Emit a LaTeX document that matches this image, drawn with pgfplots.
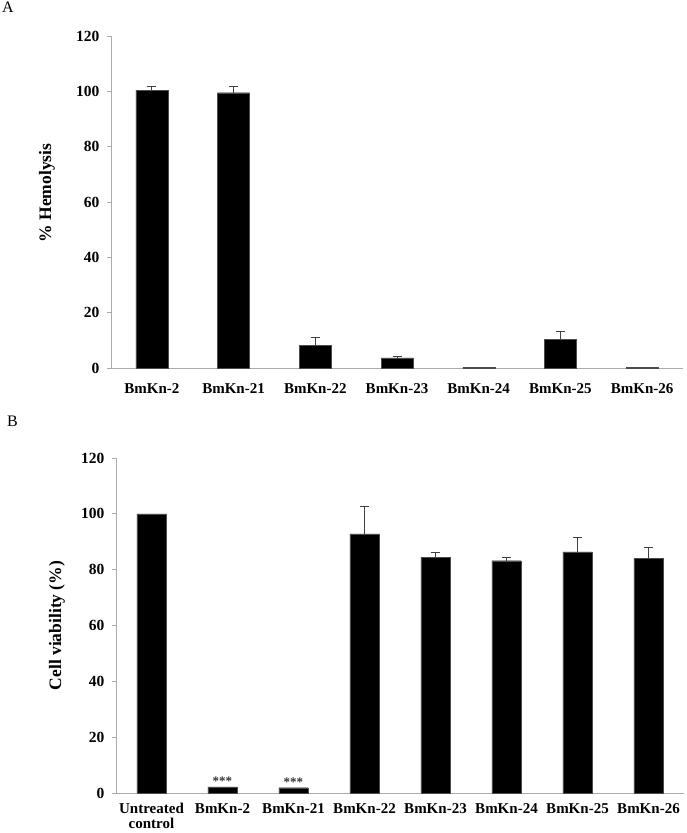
\documentclass[border=0pt]{standalone}
\usepackage{pgfplots}
\pgfplotsset{compat=1.18}
\usepackage{fontspec}
\setmainfont{Liberation Serif}

\pgfplotstableread{
x y
0 100.4
1 99.5
2 8.1
3 3.7
4 0.15
5 10.4
6 0.15
}\hemobars
\pgfplotstableread{
x y e
0 100.4 1.5
1 99.5 2.4
2 8.1 2.8
3 3.7 0.5
5 10.4 2.8
}\hemoerr
\pgfplotstableread{
x y
0 100
1 2.2
2 1.9
3 92.8
4 84.4
5 83.2
6 86.4
7 84.0
}\viabars
\pgfplotstableread{
x y e
3 92.8 9.8
4 84.4 1.8
5 83.2 1.1
6 86.4 5.1
7 84.0 3.8
}\viaerr

\pgfplotsset{
  panel/.style={
    scale only axis,
    axis lines*=left,
    axis line style={gray!65, line width=0.9pt},
    ymin=0, ymax=120,
    ytick={0,20,...,120},
    tick align=outside,
    major tick length=4pt,
    minor tick length=5pt,
    ytick style={gray!65, line width=0.9pt},
    xtick style={draw=none},
    minor x tick style={gray!65, line width=0.9pt},
    /pgf/number format/assume math mode=true,
    yticklabel style={font=\fontsize{15.5}{15.5}\selectfont\bfseries, anchor=east, xshift=-4pt},
    xticklabel style={font=\fontsize{15}{14.5}\selectfont\bfseries, anchor=north, align=center, yshift=-8pt},
    ylabel style={font=\fontsize{17.5}{17.5}\selectfont\bfseries, anchor=center},
    clip=false,
  },
  barstyle/.style={ybar, fill=black, draw=black!70, line width=0.4pt},
  errstyle/.style={draw=none, no markers, forget plot,
    error bars/.cd, y dir=plus, y explicit,
    error bar style={draw=black!75, line width=0.9pt},
    error mark options={draw=black!75, line width=0.9pt, rotate=90, mark size=4.5pt}},
}

\begin{document}
\begin{tikzpicture}[x=1pt,y=1pt]
\useasboundingbox (0,0) rectangle (687,-833);
\node[anchor=north west, inner sep=0pt, font=\fontsize{16}{16}\selectfont] at (2,-2) {A};
\node[anchor=north west, inner sep=0pt, font=\fontsize{16}{16}\selectfont] at (7,-416) {B};

\begin{axis}[panel,
  at={(111pt,-368pt)}, anchor=south west,
  width=572pt, height=332pt,
  xmin=-0.5, xmax=6.5,
  xtick={0,1,2,3,4,5,6},
  xticklabels={BmKn-2,BmKn-21,BmKn-22,BmKn-23,BmKn-24,BmKn-25,BmKn-26},
  minor xtick={-0.5,0.5,1.5,2.5,3.5,4.5,5.5,6.5},
  ylabel={\% Hemolysis},
  ylabel style={at={(axis description cs:-0.112,0.527)}},
]
\addplot[barstyle, bar width=32pt] table[x=x,y=y] {\hemobars};
\addplot[errstyle] table[x=x,y=y,y error=e] {\hemoerr};
\end{axis}

\begin{axis}[panel,
  at={(116pt,-793pt)}, anchor=south west,
  width=568pt, height=335pt,
  xmin=-0.5, xmax=7.5,
  xtick={0,1,2,3,4,5,6,7},
  xticklabels={{Untreated\\control},BmKn-2,BmKn-21,BmKn-22,BmKn-23,BmKn-24,BmKn-25,BmKn-26},
  minor xtick={-0.5,0.5,1.5,2.5,3.5,4.5,5.5,6.5,7.5},
  xticklabel style={yshift=3pt, inner sep=1pt},
  ylabel={Cell viability (\%)},
  ylabel style={at={(axis description cs:-0.104,0.5)}},
]
\addplot[barstyle, bar width=29pt] table[x=x,y=y] {\viabars};
\addplot[errstyle] table[x=x,y=y,y error=e] {\viaerr};
\node[anchor=south, inner sep=1.5pt, text=black!80, font=\fontsize{13}{13}\selectfont\bfseries] at (axis cs:1,2.2) {***};
\node[anchor=south, inner sep=1.5pt, text=black!80, font=\fontsize{13}{13}\selectfont\bfseries] at (axis cs:2,1.9) {***};
\end{axis}
\end{tikzpicture}
\end{document}
